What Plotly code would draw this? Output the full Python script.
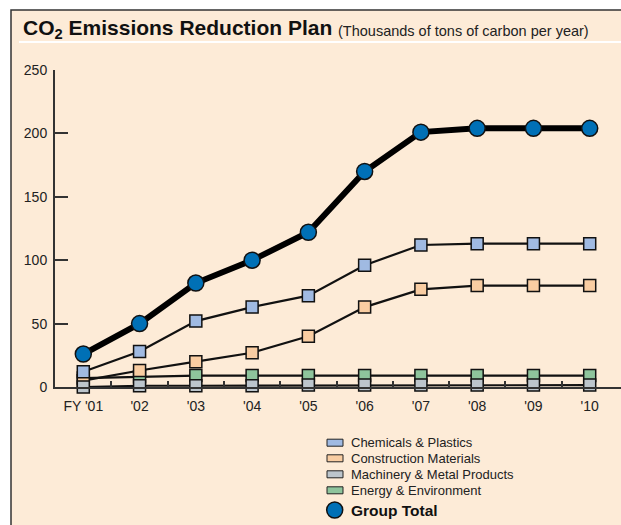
import plotly.graph_objects as go

# ---------------- data ----------------
years = ["FY '01", "'02", "'03", "'04", "'05", "'06", "'07", "'08", "'09", "'10"]
chemicals = [12, 28, 52, 63, 72, 96, 112, 113, 113, 113]
construction = [5, 13, 20, 27, 40, 63, 77, 80, 80, 80]
machinery = [0, 1, 1, 1, 1.5, 1.5, 1.5, 1.5, 1.5, 1.5]
energy = [7, 8, 9, 9, 9, 9, 9, 9, 9, 9]
group_total = [26, 50, 82, 100, 122, 170, 201, 204, 204, 204]
y_ticks = [0, 50, 100, 150, 200, 250]

series_names = ["Chemicals & Plastics", "Construction Materials",
                "Machinery & Metal Products", "Energy & Environment"]
series_values = [chemicals, construction, machinery, energy]
series_colors = ["#A0BAE2", "#F9CDA2", "#BCC5CC", "#8EC49C"]
total_name = "Group Total"
total_color = "#0070B6"

BG = "#FDEBD7"
W, H = 621, 525
L, R, T, B = 55, 0, 70, 138
PW, PH = W - L - R, H - T - B


def px(x):
    return (x - L) / PW


def py(y):
    return (H - B - y) / PH


xs = list(range(len(years)))
fig = go.Figure()

# drawing order: energy, construction, machinery, chemicals, total
order = [3, 1, 2, 0]
for i in order:
    fig.add_trace(go.Scatter(
        x=xs, y=series_values[i], name=series_names[i], mode="lines+markers",
        line=dict(color="#111111", width=2.2),
        marker=dict(symbol="square", size=12, color=series_colors[i],
                    line=dict(color="#111111", width=1.5)),
        cliponaxis=False, showlegend=False))

fig.add_trace(go.Scatter(
    x=xs, y=group_total, name=total_name, mode="lines+markers",
    line=dict(color="#000000", width=6),
    marker=dict(symbol="circle", size=16, color=total_color,
                line=dict(color="#111111", width=1.5)),
    cliponaxis=False, showlegend=False))

shapes = [
    # panel background + frame
    dict(type="rect", xref="paper", yref="paper", x0=px(11), x1=px(650),
         y0=py(10), y1=py(560), fillcolor=BG, line=dict(color="#333333", width=1.5),
         layer="below"),
    # white rule under title
    dict(type="line", xref="paper", yref="paper", x0=px(19), x1=px(650),
         y0=py(42), y1=py(42), line=dict(color="#FFFFFF", width=2), layer="below"),
]

annotations = [
    dict(xref="paper", yref="paper", x=px(21), y=py(29.5), xanchor="left", yanchor="middle",
         text="<b>CO<sub>2</sub> Emissions Reduction Plan</b>", showarrow=False,
         font=dict(family="Liberation Sans, Arial, sans-serif", size=21, color="#111111")),
    dict(xref="paper", yref="paper", x=px(336), y=py(31), xanchor="left", yanchor="middle",
         text="(Thousands of tons of carbon per year)", showarrow=False,
         font=dict(family="Liberation Sans, Arial, sans-serif", size=14.5, color="#222222")),
]

# legend (manual)
row_centers = [442.7, 458.3, 474.3, 490.3]
for name, color, yc in zip(series_names, series_colors, row_centers):
    shapes.append(dict(type="rect", xref="paper", yref="paper",
                       x0=px(327), x1=px(343), y0=py(yc - 3.5), y1=py(yc + 3.5),
                       fillcolor=color, line=dict(color="#222222", width=1)))
    annotations.append(dict(xref="paper", yref="paper", x=px(349), y=py(yc),
                            xanchor="left", yanchor="middle", text=name, showarrow=False,
                            font=dict(family="Liberation Sans, Arial, sans-serif", size=13,
                                      color="#222222")))
shapes.append(dict(type="circle", xref="paper", yref="paper",
                   x0=px(326.7), x1=px(342.7), y0=py(502), y1=py(518),
                   fillcolor=total_color, line=dict(color="#111111", width=1.5)))
annotations.append(dict(xref="paper", yref="paper", x=px(349), y=py(510),
                        xanchor="left", yanchor="middle", text="<b>" + total_name + "</b>",
                        showarrow=False,
                        font=dict(family="Liberation Sans, Arial, sans-serif", size=15.5,
                                  color="#111111")))

tick_font = dict(family="Liberation Sans, Arial, sans-serif", size=14, color="#222222")

fig.update_layout(
    width=W, height=H,
    margin=dict(l=L, r=R, t=T, b=B, pad=0),
    paper_bgcolor="#FFFFFF",
    plot_bgcolor="rgba(0,0,0,0)",
    shapes=shapes,
    annotations=annotations,
    xaxis=dict(range=[-0.503, 9.556], tickmode="array", tickvals=xs, ticktext=years,
               showgrid=False, zeroline=False, showline=True, linecolor="#333333",
               linewidth=2, ticks="", tickfont=tick_font, ticklabelstandoff=5,
               minor=dict(tickmode="array", tickvals=[v + 0.5 for v in xs[:-1]],
                          ticks="inside", ticklen=6, tickwidth=1.5, tickcolor="#333333",
                          showgrid=False),
               fixedrange=True),
    yaxis=dict(range=[0, 250], tickmode="array", tickvals=y_ticks,
               showgrid=False, zeroline=False, showline=True, linecolor="#333333",
               linewidth=2, ticks="inside", ticklen=13, tickwidth=1.5, tickcolor="#333333",
               tickfont=tick_font, ticklabelstandoff=3, fixedrange=True),
)

fig.write_html("out.html")
